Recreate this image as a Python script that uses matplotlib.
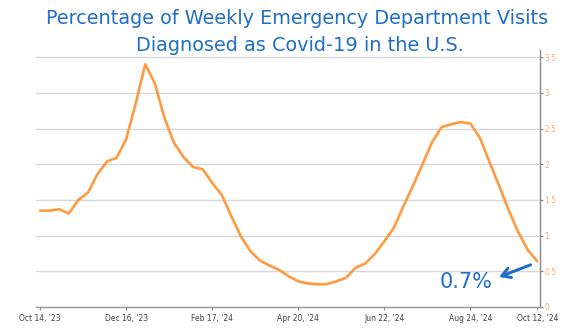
import numpy as np
import pandas as pd
import matplotlib
matplotlib.use("Agg")
from matplotlib import pyplot as plt

# weekly % of ED visits diagnosed as Covid-19
start = "2023-10-14"
pct = [1.35, 1.35, 1.37, 1.31, 1.50, 1.60, 1.86, 2.04, 2.09, 2.35,
       2.85, 3.40, 3.13, 2.65, 2.30, 2.10, 1.96, 1.93, 1.74, 1.57,
       1.27, 0.99, 0.78, 0.65, 0.58, 0.52, 0.43, 0.36, 0.33, 0.32,
       0.32, 0.36, 0.41, 0.55, 0.61, 0.74, 0.92, 1.11, 1.41, 1.70,
       2.00, 2.31, 2.52, 2.56, 2.59, 2.57, 2.37, 2.03, 1.70, 1.36,
       1.05, 0.80, 0.64]
weeks = pd.date_range(start, periods=len(pct), freq="7D")

tick_dates = ["2023-10-14", "2023-12-16", "2024-02-17", "2024-04-20",
              "2024-06-22", "2024-08-24", "2024-10-12"]
tick_labels = ["Oct 14, '23", "Dec 16, '23", "Feb 17, '24", "Apr 20, '24",
               "Jun 22, '24", "Aug 24, '24", "Oct 12, '24"]
y_ticks = [0, 0.5, 1, 1.5, 2, 2.5, 3, 3.5]
y_labels = ["0", "0.5", "1", "1.5", "2", "2.5", "3", "3.5"]

title_blue = "#1f6fc6"
line_orange = "#ff9a40"

fig = plt.figure(figsize=(5.65, 3.31), dpi=100)
ax = fig.add_axes([36/565, 24/331, 504/565, 257/331])

ax.plot(weeks, pct, color=line_orange, lw=1.9, solid_joinstyle="round",
        solid_capstyle="round", zorder=3)

ax.set_xlim(pd.Timestamp(start) - pd.Timedelta(days=3),
            pd.Timestamp("2024-10-12") + pd.Timedelta(days=2))
ax.set_ylim(0, 3.6)

ax.set_xticks(pd.to_datetime(tick_dates))
ax.set_xticklabels(tick_labels, fontsize=5.5, color="#444444")
ax.yaxis.tick_right()
ax.set_yticks(y_ticks)
ax.set_yticklabels(y_labels, fontsize=5.5, color="#ffaa70")
ax.tick_params(axis="x", length=2, width=0.8, color="#888888", pad=3)
ax.tick_params(axis="y", length=2, width=0.8, color="#888888", pad=1)

ax.grid(axis="y", color="#d8d8d8", lw=1.0, zorder=0)
for s in ["top", "left"]:
    ax.spines[s].set_visible(False)
ax.spines["right"].set_color("#888888")
ax.spines["bottom"].set_color("#999999")
ax.spines["right"].set_linewidth(1.0)
ax.spines["bottom"].set_linewidth(1.0)

fig.text(0.525, 0.945, "Percentage of Weekly Emergency Department Visits",
         ha="center", va="center", fontsize=13.9, color=title_blue)
fig.text(0.53, 0.862, "Diagnosed as Covid-19 in the U.S.",
         ha="center", va="center", fontsize=13.9, color=title_blue)

# last value callout
ax.text(weeks[44] + pd.Timedelta(days=4), 0.35, "0.7%", fontsize=15,
        color=title_blue, ha="center", va="center")
ax.annotate("", xy=(weeks[48], 0.42),
            xytext=(weeks[51] + pd.Timedelta(days=2), 0.59),
            arrowprops=dict(arrowstyle="->,head_length=0.6,head_width=0.35",
                            color=title_blue, lw=2.2,
                            shrinkA=0, shrinkB=0))

fig.savefig("out.png", dpi=100)
